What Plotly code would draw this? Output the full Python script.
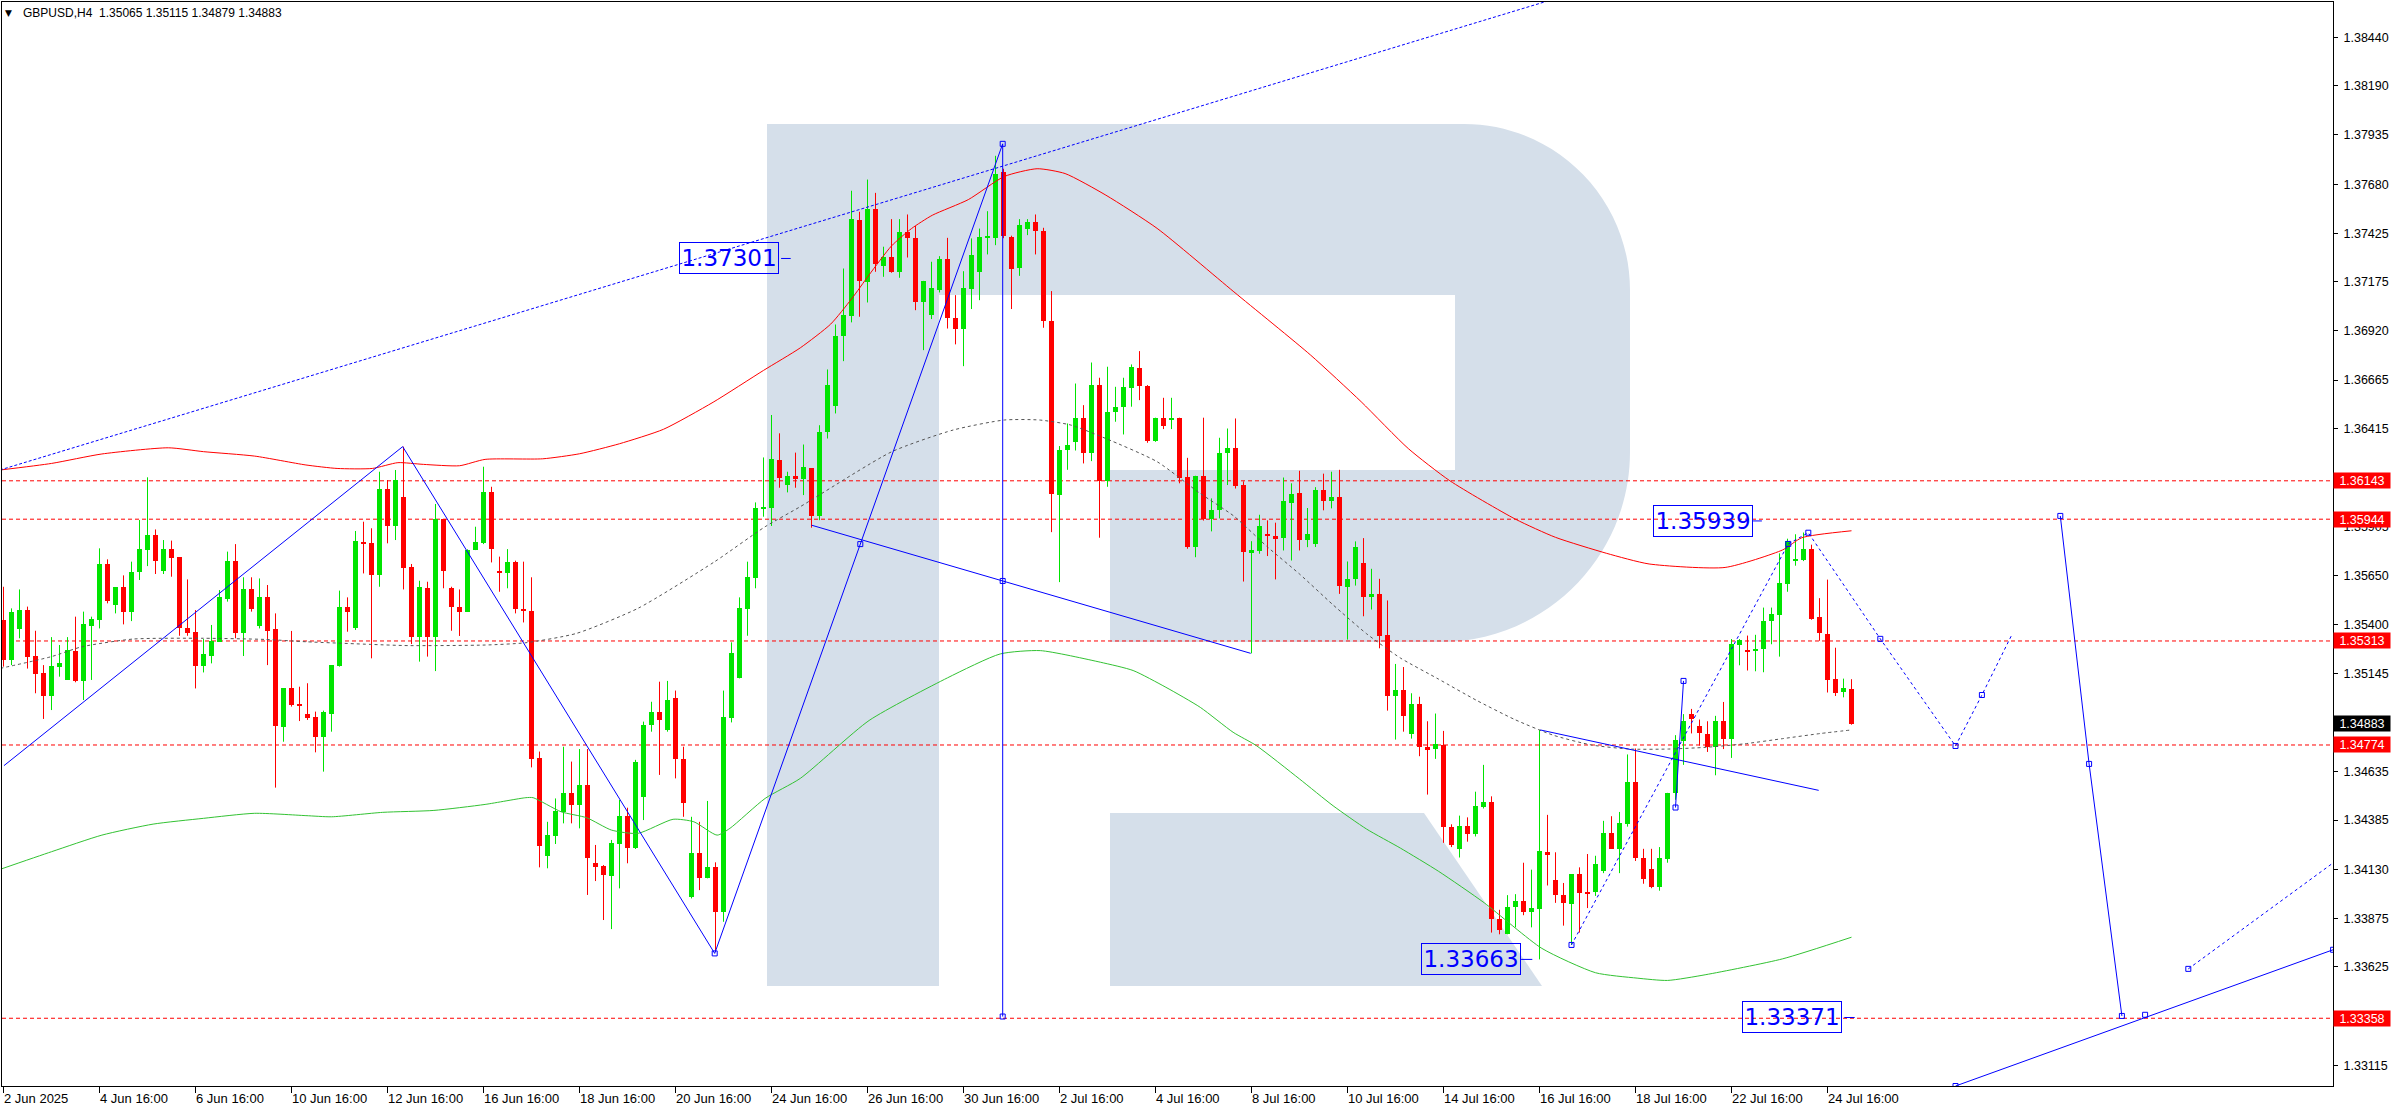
import plotly.graph_objects as go

# ---------------- data (H4 bars, bar index 0 = 2 Jun 2025 00:00) ----------------
FIRST_BAR = 4
OPEN = [1.35422,1.35214,1.35375,1.35473,1.35235,1.35145,1.35028,1.35176,1.35111,1.35263,
        1.35107,1.35390,1.35422,1.35710,1.35499,1.35591,1.35465,1.35669,1.35784,1.35862,
        1.35675,1.35788,1.35746,1.35378,1.35358,1.35183,1.35235,1.35309,1.35529,1.35729,
        1.35352,1.35580,1.35390,1.35539,1.35373,1.34865,1.35067,1.34986,1.34933,1.34917,
        1.34814,1.34935,1.35183,1.35491,1.35378,1.35827,1.35819,1.35655,1.36099,1.35909,
        1.36057,1.35694,1.35332,1.35586,1.35332,1.35943,1.35586,1.35491,1.35465,1.35784,
        1.35819,1.36083,1.35675,1.35667,1.35724,1.35479,1.35470,1.34705,1.34199,1.34302,
        1.34428,1.34523,1.34463,1.34566,1.34161,1.34147,1.34095,1.34261,1.34406,1.34238,
        1.34503,1.34878,1.34947,1.34852,1.35016,1.34701,1.33988,1.34212,1.34083,1.34140,
        1.33910,1.34912,1.35119,1.35477,1.35637,1.35995,1.36000,1.36250,1.36121,1.36169,
        1.36150,1.36207,1.35960,1.36397,1.36530,1.36894,1.36998,1.37494,1.37174,1.37549,
        1.37255,1.37304,1.37226,1.37430,1.37402,1.37071,1.37001,1.37131,1.37290,1.36989,
        1.36929,1.37136,1.37226,1.37402,1.37402,1.37741,1.37407,1.37247,1.37450,1.37482,
        1.37437,1.36972,1.36069,1.36302,1.36345,1.36471,1.36288,1.36642,1.36143,1.36501,
        1.36527,1.36622,1.36729,1.36634,1.36349,1.36470,1.36456,1.36470,1.36164,1.35799,
        1.36169,1.35945,1.35991,1.36285,1.36311,1.36121,1.35773,1.35777,1.35868,1.35856,
        1.35846,1.36030,1.36078,1.35834,1.35817,1.36095,1.36040,1.36058,1.35592,1.35632,
        1.35718,1.35540,1.35557,1.35345,1.35030,1.35060,1.34829,1.34988,1.34762,1.34753,
        1.34774,1.34351,1.34236,1.34354,1.34314,1.34454,1.34481,1.33871,1.33793,1.33934,
        1.33965,1.33910,1.33923,1.34218,1.34073,1.33996,1.33952,1.34104,1.34010,1.34010,
        1.34119,1.34318,1.34236,1.34363,1.34580,1.34187,1.34133,1.34037,1.34182,1.34523,
        1.34794,1.34937,1.34870,1.34829,1.34762,1.34897,1.34807,1.35292,1.35265,1.35260,
        1.35269,1.35414,1.35450,1.35609,1.35731,1.35731,1.35788,1.35437,1.35350,1.35115,
        1.35051,1.35065]
HIGH = [1.35594,1.35482,1.35580,1.35491,1.35366,1.35188,1.35333,1.35292,1.35333,1.35439,
        1.35465,1.35439,1.35793,1.35736,1.35591,1.35653,1.35724,1.35940,1.36161,1.35891,
        1.35836,1.35833,1.35746,1.35632,1.35473,1.35323,1.35396,1.35577,1.35776,1.35815,
        1.35643,1.35643,1.35637,1.35603,1.35456,1.35067,1.35365,1.35076,1.35094,1.34947,
        1.34952,1.35188,1.35574,1.35539,1.35883,1.35931,1.35897,1.36190,1.36147,1.36199,
        1.36320,1.35712,1.35625,1.35620,1.36023,1.35943,1.35594,1.35580,1.35788,1.35905,
        1.36216,1.36112,1.35750,1.35789,1.35729,1.35724,1.35643,1.34740,1.34376,1.34497,
        1.34765,1.34688,1.34753,1.34753,1.34256,1.34152,1.34282,1.34489,1.34449,1.34697,
        1.34895,1.34998,1.35102,1.35106,1.35056,1.34765,1.34402,1.34376,1.34484,1.34166,
        1.35056,1.35306,1.35539,1.35724,1.36031,1.36264,1.36484,1.36389,1.36190,1.36289,
        1.36331,1.36207,1.36431,1.36720,1.36953,1.37243,1.37646,1.37537,1.37704,1.37635,
        1.37356,1.37499,1.37499,1.37523,1.37464,1.37179,1.37278,1.37307,1.37402,1.37105,
        1.37229,1.37399,1.37450,1.37540,1.37827,1.37760,1.37413,1.37499,1.37499,1.37523,
        1.37454,1.37126,1.36323,1.36440,1.36647,1.36535,1.36756,1.36677,1.36734,1.36630,
        1.36677,1.36746,1.36815,1.36639,1.36470,1.36573,1.36573,1.36470,1.36262,1.36169,
        1.36470,1.36052,1.36366,1.36414,1.36466,1.36140,1.35830,1.35967,1.35938,1.35926,
        1.36160,1.36130,1.36195,1.36002,1.36110,1.36180,1.36190,1.36200,1.35725,1.35829,
        1.35846,1.35687,1.35635,1.35523,1.35194,1.35178,1.35042,1.35024,1.34897,1.34937,
        1.34847,1.34363,1.34408,1.34399,1.34532,1.34671,1.34508,1.33920,1.33996,1.34001,
        1.34164,1.34128,1.34852,1.34412,1.34218,1.34059,1.34104,1.34140,1.34209,1.34200,
        1.34381,1.34405,1.34427,1.34725,1.34756,1.34236,1.34236,1.34245,1.34526,1.34825,
        1.34934,1.34961,1.34906,1.34897,1.34925,1.34997,1.35323,1.35323,1.35341,1.35345,
        1.35486,1.35486,1.35767,1.35843,1.35866,1.35875,1.35812,1.35535,1.35631,1.35278,
        1.35118,1.35115]
LOW = [1.35180,1.35188,1.35327,1.35170,1.35042,1.34909,1.34955,1.35128,1.35111,1.35099,
       1.35007,1.35111,1.35378,1.35508,1.35456,1.35399,1.35416,1.35629,1.35701,1.35660,
       1.35660,1.35646,1.35340,1.35340,1.35067,1.35150,1.35197,1.35309,1.35517,1.35327,
       1.35235,1.35465,1.35378,1.35188,1.34553,1.34791,1.34973,1.34898,1.34904,1.34736,
       1.34636,1.34843,1.35180,1.35361,1.35370,1.35663,1.35223,1.35594,1.35819,1.35836,
       1.35580,1.35297,1.35206,1.35232,1.35157,1.35586,1.35366,1.35339,1.35465,1.35784,
       1.35815,1.35720,1.35568,1.35586,1.35456,1.35409,1.34658,1.34140,1.34135,1.34261,
       1.34368,1.34368,1.34342,1.33997,1.34069,1.33867,1.33820,1.34031,1.34161,1.34235,
       1.34385,1.34843,1.34619,1.34843,1.34601,1.34402,1.33979,1.34022,1.34083,1.33703,
       1.33858,1.34891,1.35119,1.35340,1.35586,1.35957,1.35909,1.36107,1.36083,1.36107,
       1.36069,1.35900,1.35939,1.36362,1.36492,1.36763,1.36964,1.36993,1.37067,1.37226,
       1.37200,1.37221,1.37195,1.37300,1.37027,1.36820,1.36981,1.37119,1.36932,1.36850,
       1.36737,1.37033,1.37079,1.37316,1.37364,1.37400,1.37033,1.37205,1.37416,1.37316,
       1.36936,1.35877,1.35618,1.36200,1.36300,1.36233,1.36245,1.35848,1.36112,1.36449,
       1.36383,1.36527,1.36561,1.36340,1.36345,1.36411,1.36411,1.36130,1.35791,1.35747,
       1.35937,1.35881,1.35948,1.36121,1.36103,1.35621,1.35249,1.35765,1.35753,1.35632,
       1.35782,1.35730,1.35782,1.35799,1.35800,1.35990,1.36000,1.35557,1.35320,1.35600,
       1.35441,1.35476,1.35275,1.34952,1.34802,1.34843,1.34807,1.34716,1.34517,1.34702,
       1.34267,1.34245,1.34191,1.34273,1.34300,1.34445,1.33802,1.33793,1.33793,1.33829,
       1.33892,1.33829,1.33663,1.34046,1.33956,1.33838,1.33738,1.33802,1.33929,1.33992,
       1.34110,1.34236,1.34110,1.34351,1.34173,1.34055,1.34032,1.34019,1.34164,1.34490,
       1.34671,1.34834,1.34771,1.34738,1.34617,1.34753,1.34707,1.35187,1.35160,1.35156,
       1.35151,1.35296,1.35232,1.35568,1.35703,1.35727,1.35423,1.35314,1.35046,1.35028,
       1.35021,1.34879]
CLOSE = [1.35214,1.35465,1.35473,1.35232,1.35142,1.35028,1.35183,1.35197,1.35266,1.35107,
         1.35399,1.35425,1.35710,1.35520,1.35591,1.35465,1.35669,1.35788,1.35862,1.35727,
         1.35788,1.35745,1.35378,1.35352,1.35183,1.35244,1.35314,1.35539,1.35729,1.35352,
         1.35580,1.35479,1.35539,1.35366,1.34872,1.35067,1.34981,1.34981,1.34912,1.34814,
         1.34943,1.35188,1.35491,1.35465,1.35833,1.35815,1.35655,1.36099,1.35909,1.36147,
         1.35689,1.35332,1.35591,1.35332,1.35943,1.35675,1.35487,1.35465,1.35784,1.35824,
         1.36083,1.35789,1.35667,1.35724,1.35479,1.35470,1.34701,1.34250,1.34307,1.34432,
         1.34523,1.34463,1.34566,1.34187,1.34140,1.34100,1.34264,1.34406,1.34238,1.34688,
         1.34878,1.34947,1.34904,1.35007,1.34701,1.34471,1.34212,1.34083,1.34140,1.33910,
         1.34917,1.35249,1.35482,1.35646,1.36000,1.36009,1.36254,1.36156,1.36169,1.36152,
         1.36212,1.35960,1.36397,1.36642,1.36894,1.37001,1.37499,1.37178,1.37549,1.37269,
         1.37304,1.37226,1.37430,1.37402,1.37071,1.37179,1.37140,1.37290,1.36989,1.36932,
         1.37140,1.37312,1.37404,1.37411,1.37735,1.37413,1.37240,1.37471,1.37482,1.37437,
         1.36970,1.36074,1.36302,1.36328,1.36471,1.36288,1.36642,1.36143,1.36501,1.36527,
         1.36630,1.36734,1.36634,1.36349,1.36470,1.36428,1.36470,1.36160,1.35801,1.36169,
         1.35945,1.35991,1.36285,1.36311,1.36117,1.35773,1.35782,1.35908,1.35856,1.35846,
         1.36040,1.36075,1.35834,1.35868,1.36095,1.36040,1.36058,1.35597,1.35635,1.35799,
         1.35543,1.35557,1.35341,1.35030,1.35059,1.34925,1.34988,1.34762,1.34753,1.34780,
         1.34351,1.34255,1.34354,1.34314,1.34459,1.34481,1.33871,1.33814,1.33934,1.33965,
         1.33910,1.33929,1.34224,1.34209,1.33996,1.33956,1.34104,1.34006,1.34006,1.34155,
         1.34318,1.34236,1.34369,1.34580,1.34191,1.34082,1.34037,1.34187,1.34523,1.34798,
         1.34897,1.34910,1.34834,1.34762,1.34897,1.34807,1.35296,1.35318,1.35260,1.35272,
         1.35419,1.35455,1.35613,1.35830,1.35740,1.35788,1.35428,1.35354,1.35109,1.35042,
         1.35069,1.34883]

# envelope curves (bar index, price)
UPPER_BAR = [3.6, 10, 16.3, 24.6, 29, 35.4, 41.8, 45.7, 50.1, 53.3, 56.5, 61, 64.2, 71.4, 76, 81,
             86.5, 92.7, 99, 103.6, 107.4, 110, 112.2, 115, 117.5, 120.1, 124.6, 129.1, 133.2,
             136.7, 141.8, 148.2, 157.8, 167.4, 173.7, 179.6, 184.8, 193, 198, 204.4, 209.7,
             219.2, 226.4, 228.8, 235]
UPPER_VAL = [1.36199, 1.36233, 1.36282, 1.36314, 1.36294, 1.36271, 1.36225, 1.36207, 1.36207,
             1.36237, 1.36228, 1.36221, 1.36254, 1.36257, 1.36283, 1.36335, 1.36410, 1.36550,
             1.36715, 1.36832, 1.36955, 1.37085, 1.37210, 1.37360, 1.37450, 1.37519, 1.37600,
             1.37720, 1.37760, 1.37735, 1.37623, 1.37451, 1.37122, 1.36794, 1.36553, 1.36310,
             1.36143, 1.35944, 1.35850, 1.35767, 1.35712, 1.35694, 1.35785, 1.35848, 1.35884]
MID_BAR = [3.6, 10, 13.8, 20.2, 29, 36.7, 41.8, 50.1, 54.6, 64.2, 69.3, 75.6, 83.3, 92.9, 99.2,
           103.6, 115, 122.7, 129.1, 133.5, 137.4, 141.8, 148.2, 153.5, 157.8, 162, 166, 170.2,
           174.4, 178.6, 183.4, 188.1, 192.9, 197.7, 202.5, 207.3, 212.1, 216.8, 221.6, 226.4,
           231.2, 235]
MID_VAL = [1.35171, 1.35232, 1.35283, 1.35323, 1.35327, 1.35321, 1.35309, 1.35295, 1.35289,
           1.35292, 1.35304, 1.35352, 1.35482, 1.35724, 1.35905, 1.36009, 1.36293, 1.36406,
           1.36458, 1.36458, 1.36432, 1.36362, 1.36242, 1.36080, 1.35960, 1.35800, 1.35660,
           1.35500, 1.35350, 1.35225, 1.35115, 1.35006, 1.34906, 1.34825, 1.34774, 1.34753,
           1.34753, 1.34762, 1.34780, 1.34807, 1.34834, 1.34852]
LOWER_BAR = [3.6, 10, 16.3, 22.7, 29, 35.4, 41.8, 45, 51.4, 57.8, 64.2, 69.3, 70.2, 73.7, 76.9,
             80, 83.3, 87.7, 90.3, 93.2, 94.8, 99.2, 103.6, 112.2, 122, 128.6, 133.6, 141.1,
             145.2, 149.3, 153.6, 157.7, 160.6, 166, 170.2, 174.4, 178.6, 183.4, 189.1, 196.3,
             203, 208.2, 212, 216.8, 226.4, 235]
LOWER_VAL = [1.34130, 1.34221, 1.34307, 1.34364, 1.34394, 1.34420, 1.34408, 1.34402, 1.34425,
             1.34435, 1.34466, 1.34501, 1.34501, 1.34428, 1.34397, 1.34333, 1.34316, 1.34389,
             1.34376, 1.34307, 1.34342, 1.34497, 1.34601, 1.34901, 1.35122, 1.35246, 1.35263,
             1.35203, 1.35160, 1.35073, 1.34969, 1.34840, 1.34771, 1.34598, 1.34459, 1.34338,
             1.34240, 1.34119, 1.33956, 1.33720, 1.33594, 1.33566, 1.33554, 1.33584, 1.33666,
             1.33778]

# drawn analysis objects (bar index, price)
CHANNEL_X, CHANNEL_Y = [3.56, 197.4], [1.36199, 1.38634]
ZIGZAG_X, ZIGZAG_Y = [4.06, 53.9, 92.9, 128.9], [1.34667, 1.36320, 1.33694, 1.37889]
VERT_X, VERT_Y = [128.9, 128.9], [1.37889, 1.33367]
LINE_B_X, LINE_B_Y = [105.0, 159.9], [1.35913, 1.35249]
LINE_C_X, LINE_C_Y = [196.1, 230.9], [1.34852, 1.34539]
SEG_X, SEG_Y = [213.0, 214.0], [1.34450, 1.35106]
FDASH_X = [200, 227.1, 229.6, 238.6, 248.0, 251.3, 255.1]
FDASH_Y = [1.33738, 1.35816, 1.35874, 1.35324, 1.34769, 1.35033, 1.35350]
FSOLID_X, FSOLID_Y = [261.1, 264.7, 268.8], [1.35961, 1.34676, 1.33370]
RISE_X, RISE_Y = [248.0, 295.2], [1.33007, 1.33713]
RDASH_X, RDASH_Y = [277.1, 295.2], [1.33614, 1.34163]
HANDLE_X = [92.9, 128.9, 128.9, 128.9, 111.1, 200, 213.0, 214.0, 227.1, 229.6, 238.6, 248.0,
            251.3, 261.1, 264.7, 268.8, 271.7, 248.0, 277.1, 295.2]
HANDLE_Y = [1.33694, 1.37889, 1.33367, 1.35624, 1.35815, 1.33738, 1.34450, 1.35106, 1.35816,
            1.35874, 1.35324, 1.34769, 1.35033, 1.35961, 1.34676, 1.33370, 1.33376, 1.33007,
            1.33614, 1.33713]
LABEL_TEXT = ["1.37301", "1.35939", "1.33663", "1.33371"]
LABEL_X = [94.7, 216.4, 187.4, 227.5]
LABEL_Y = [1.37295, 1.35935, 1.33663, 1.33362]
LABEL_TAIL_X = [(101.2, 102.4), (222.7, 223.8), (193.7, 195.1), (234.1, 235.4)]

LEVELS = [1.36143, 1.35944, 1.35313, 1.34774, 1.33358]
LAST_PRICE = 1.34883
PRICE_TICKS = [1.38440, 1.38190, 1.37935, 1.37680, 1.37425, 1.37175, 1.36920, 1.36665, 1.36415,
               1.36160, 1.35905, 1.35650, 1.35400, 1.35145, 1.34890, 1.34635, 1.34385, 1.34130,
               1.33875, 1.33625, 1.33370, 1.33115]
TIME_TICK_BARS = [4, 16, 28, 40, 52, 64, 76, 88, 100, 112, 124, 136, 148, 160, 172, 184, 196,
                  208, 220, 232]
TIME_TICK_TEXT = ["2 Jun 2025", "4 Jun 16:00", "6 Jun 16:00", "10 Jun 16:00", "12 Jun 16:00",
                  "16 Jun 16:00", "18 Jun 16:00", "20 Jun 16:00", "24 Jun 16:00", "26 Jun 16:00",
                  "30 Jun 16:00", "2 Jul 16:00", "4 Jul 16:00", "8 Jul 16:00", "10 Jul 16:00",
                  "14 Jul 16:00", "16 Jul 16:00", "18 Jul 16:00", "22 Jul 16:00", "24 Jul 16:00"]
HEADER = "GBPUSD,H4\u00a0\u00a01.35065 1.35115 1.34879 1.34883"

# ---------------- styling / geometry ----------------
W, H = 2396, 1110
PL, PR, PT, PB = 2, 2333, 2, 1086
X_RANGE = [3.8125, 295.1875]
Y_RANGE = [1.33007, 1.38624]
UP, DN = "#00E400", "#FF0000"
BLUE = "#0000FF"
LOGO = "#D5DFEA"

def px(x):
    return (x - PL) / (PR - PL)

def py(y):
    return (PB - y) / (PB - PT)

def path(cmds):
    out = []
    for c, pts in cmds:
        if c == "Z":
            out.append("Z")
        elif c == "C":
            out.append("C " + " ".join(f"{px(x):.5f},{py(y):.5f}" for x, y in pts))
        else:
            for x, y in pts:
                out.append(f"{c} {px(x):.5f},{py(y):.5f}")
    return " ".join(out)

BAR = list(range(FIRST_BAR, FIRST_BAR + len(OPEN)))

fig = go.Figure()

# wicks
for col, cond in ((UP, True), (DN, False)):
    wx, wy = [], []
    for i, o, h, l, c in zip(BAR, OPEN, HIGH, LOW, CLOSE):
        if (c >= o) == cond:
            wx += [i, i, None]
            wy += [l, h, None]
    fig.add_trace(go.Scatter(x=wx, y=wy, mode="lines", line=dict(color=col, width=1),
                             hoverinfo="skip"))

# bodies
bases = [min(o, c) for o, c in zip(OPEN, CLOSE)]
heights = [max(abs(c - o), 0.00005) for o, c in zip(OPEN, CLOSE)]
colors = [UP if c >= o else DN for o, c in zip(OPEN, CLOSE)]
fig.add_trace(go.Bar(x=BAR, y=heights, base=bases, width=0.62,
                     marker=dict(color=colors, line=dict(width=0)), hoverinfo="skip"))

# envelope curves
fig.add_trace(go.Scatter(x=UPPER_BAR, y=UPPER_VAL, mode="lines",
                         line=dict(color="#FF0000", width=1, shape="spline", smoothing=0.6)))
fig.add_trace(go.Scatter(x=MID_BAR, y=MID_VAL, mode="lines",
                         line=dict(color="#555555", width=1, dash="3px,3px", shape="spline",
                                   smoothing=0.6)))
fig.add_trace(go.Scatter(x=LOWER_BAR, y=LOWER_VAL, mode="lines",
                         line=dict(color="#33C233", width=1, shape="spline", smoothing=0.6)))

# drawn objects
def blue_line(x, y, dash=None):
    fig.add_trace(go.Scatter(x=x, y=y, mode="lines",
                             line=dict(color=BLUE, width=1, dash=dash), hoverinfo="skip"))

blue_line(CHANNEL_X, CHANNEL_Y, "3px,2px")
blue_line(ZIGZAG_X, ZIGZAG_Y)
blue_line(VERT_X, VERT_Y)
blue_line(LINE_B_X, LINE_B_Y)
blue_line(LINE_C_X, LINE_C_Y)
blue_line(SEG_X, SEG_Y)
blue_line(FDASH_X, FDASH_Y, "3px,3px")
blue_line(FSOLID_X, FSOLID_Y)
blue_line(RISE_X, RISE_Y)
blue_line(RDASH_X, RDASH_Y, "3px,3px")
for (x0, x1), yv in zip(LABEL_TAIL_X, LABEL_Y):
    blue_line([x0, x1], [yv, yv])
fig.add_trace(go.Scatter(x=HANDLE_X, y=HANDLE_Y, mode="markers",
                         marker=dict(symbol="square-open", size=5, color=BLUE,
                                     line=dict(width=1, color=BLUE)), hoverinfo="skip"))

# ---------------- shapes ----------------
shapes = []
shapes.append(dict(type="path", xref="paper", yref="paper", layer="below",
                   path=path([("M", [(767, 124)]), ("L", [(939, 124), (939, 986), (767, 986)]),
                              ("Z", [])]),
                   fillcolor=LOGO, line=dict(width=0)))
shapes.append(dict(type="path", xref="paper", yref="paper", layer="below",
                   path=path([("M", [(939, 124)]), ("L", [(1464, 124)]),
                              ("C", [(1555, 124), (1630, 198), (1630, 290)]),
                              ("L", [(1630, 452)]),
                              ("C", [(1630, 557), (1545, 642), (1440, 642)]),
                              ("L", [(1110, 642), (1110, 470), (1455, 470), (1455, 295),
                                     (939, 295)]),
                              ("Z", [])]),
                   fillcolor=LOGO, line=dict(width=0)))
shapes.append(dict(type="path", xref="paper", yref="paper", layer="below",
                   path=path([("M", [(1110, 813)]), ("L", [(1424, 813), (1542, 986), (1110, 986)]),
                              ("Z", [])]),
                   fillcolor=LOGO, line=dict(width=0)))
for lv in LEVELS:
    shapes.append(dict(type="line", xref="paper", x0=0, x1=1, yref="y", y0=lv, y1=lv,
                       layer="below", line=dict(color="#FF0000", width=1, dash="4px,3px")))

# ---------------- annotations ----------------
ann = []
for t, xb, yv in zip(LABEL_TEXT, LABEL_X, LABEL_Y):
    ann.append(dict(x=xb, y=yv, xref="x", yref="y", text=t, showarrow=False,
                    font=dict(family="DejaVu Sans", size=23, color=BLUE),
                    bordercolor=BLUE, borderwidth=1, borderpad=1, bgcolor="rgba(0,0,0,0)",
                    width=96, height=28))
for lv in LEVELS:
    ann.append(dict(x=1, y=lv, xref="paper", yref="y", xanchor="left", xshift=0,
                    text=f"{lv:.5f}", showarrow=False, bgcolor="#FF0000",
                    font=dict(family="Liberation Sans", size=12.5, color="white"),
                    width=54, height=13, borderpad=1))
ann.append(dict(x=1, y=LAST_PRICE, xref="paper", yref="y", xanchor="left", xshift=0,
                text=f"{LAST_PRICE:.5f}", showarrow=False, bgcolor="#000000",
                font=dict(family="Liberation Sans", size=12.5, color="white"),
                width=54, height=13, borderpad=1))
for b, t in zip(TIME_TICK_BARS, TIME_TICK_TEXT):
    ann.append(dict(x=b, y=0, xref="x", yref="paper", xanchor="left", yanchor="top",
                    xshift=-2, yshift=-3, text=t, showarrow=False,
                    font=dict(family="Liberation Sans Narrow, Arial Narrow, sans-serif",
                              size=13, color="black")))
ann.append(dict(x=0, y=py(13), xref="paper", yref="paper", xanchor="left", yanchor="middle",
                xshift=1, text="\u25BC", showarrow=False,
                font=dict(family="DejaVu Sans", size=9, color="black")))
ann.append(dict(x=0, y=py(13), xref="paper", yref="paper", xanchor="left", yanchor="middle",
                xshift=19, text=HEADER, showarrow=False,
                font=dict(family="Liberation Sans", size=12, color="black")))

fig.update_layout(
    width=W, height=H, autosize=False,
    margin=dict(l=PL, r=W - PR, t=PT, b=H - PB, pad=0),
    plot_bgcolor="white", paper_bgcolor="white",
    showlegend=False, bargap=0, barmode="overlay",
    shapes=shapes, annotations=ann,
    xaxis=dict(range=X_RANGE, showgrid=False, zeroline=False, showline=True, mirror=True,
               linecolor="black", linewidth=1, ticks="outside", ticklen=6, tickcolor="black",
               tickvals=TIME_TICK_BARS, showticklabels=False, fixedrange=True),
    yaxis=dict(range=Y_RANGE, side="right", showgrid=False, zeroline=False, showline=True,
               mirror=True, linecolor="black", linewidth=1, ticks="outside", ticklen=4,
               tickcolor="black", tickvals=PRICE_TICKS,
               ticktext=[f"{v:.5f}" for v in PRICE_TICKS],
               tickfont=dict(family="Liberation Sans", size=12.5, color="black"),
               ticklabelstandoff=3, fixedrange=True),
)

fig.write_html("out.html", config={"displayModeBar": False},
               post_script="document.body.style.margin='0';document.body.style.padding='0';")
